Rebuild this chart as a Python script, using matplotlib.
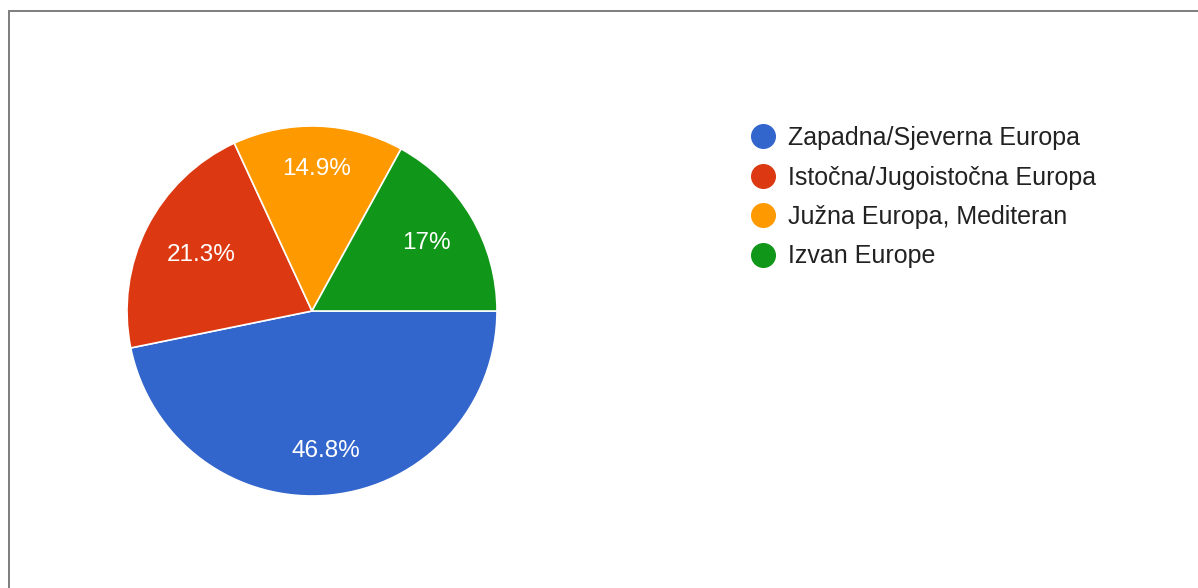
import matplotlib
matplotlib.use("Agg")
from matplotlib import pyplot as plt
from matplotlib.lines import Line2D
import numpy as np

# Data
regions = ["Zapadna/Sjeverna Europa", "Istočna/Jugoistočna Europa",
           "Južna Europa, Mediteran", "Izvan Europe"]
shares = [46.8, 21.3, 14.9, 17.0]
pct_labels = ["46.8%", "21.3%", "14.9%", "17%"]

colors = ["#3366CC", "#DC3912", "#FF9900", "#109618"]
label_dist = [0.76, 0.67, 0.77, 0.72]

plt.rcParams["font.family"] = ["Liberation Sans", "DejaVu Sans"]

fig = plt.figure(figsize=(11.98, 5.88), dpi=100)
W, H = 1198, 588

# pie centred at (312, 311) px with radius 185 px
cx, cy, r = 312, 311, 185
ax = fig.add_axes([(cx - r) / W, (H - cy - r) / H, 2 * r / W, 2 * r / H])
wedges, _ = ax.pie(shares, colors=colors, startangle=0, counterclock=False,
                   radius=1, wedgeprops=dict(edgecolor="white", linewidth=1.2))
ax.set_xlim(-1, 1)
ax.set_ylim(-1, 1)
ax.set_aspect("equal")
ax.axis("off")

# percentage labels inside slices
for w, txt, d in zip(wedges, pct_labels, label_dist):
    mid = np.deg2rad((w.theta1 + w.theta2) / 2)
    ax.text(d * np.cos(mid), d * np.sin(mid), txt, color="white",
            fontsize=17.5, ha="center", va="center")

# legend
handles = [Line2D([], [], marker="o", linestyle="none", markersize=17,
                  markerfacecolor=c, markeredgecolor=c) for c in colors]
fig.legend(handles, regions, loc="upper left",
           bbox_to_anchor=(750 / W, 1 - 126 / H), frameon=False,
           fontsize=18, labelcolor="#222222", handletextpad=0.5,
           labelspacing=0.62, borderaxespad=0, handlelength=1.0,
           borderpad=0)

# frame lines (left and top, like the screenshot)
lw = 2 * 72 / 100
fig.add_artist(Line2D([8.5 / W, 8.5 / W], [0, 1 - 11 / H], color="#808080", linewidth=lw))
fig.add_artist(Line2D([8.5 / W, 1], [1 - 11 / H, 1 - 11 / H], color="#808080", linewidth=lw))

fig.savefig("out.png", dpi=100, facecolor="white")
